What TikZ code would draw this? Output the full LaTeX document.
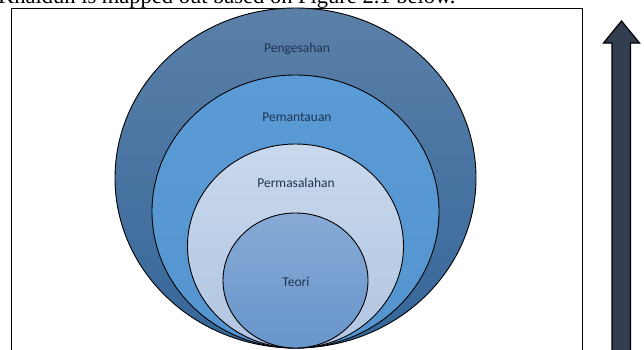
\documentclass[tikz,border=0pt]{standalone}
\usepackage{fontspec}
\setmainfont{Liberation Serif}
\newfontfamily\calib{Carlito}
\usetikzlibrary{shapes.geometric}
\definecolor{outerT}{HTML}{5B80A8}
\definecolor{outerB}{HTML}{35679A}
\definecolor{secT}{HTML}{5A9BD6}
\definecolor{secB}{HTML}{5495D0}
\definecolor{thrT}{HTML}{C8D8EC}
\definecolor{thrB}{HTML}{B2C6E2}
\definecolor{fouT}{HTML}{87AAD5}
\definecolor{fouB}{HTML}{6895CB}
\definecolor{labtxt}{HTML}{1E3450}
\definecolor{arrowfill}{HTML}{333F50}
\tikzset{
  ring/.style={ellipse, draw=black, line width=0.9pt, inner sep=0pt},
  lab/.style={font=\calib\fontsize{13.5}{15}\selectfont, text=labtxt, inner sep=0pt}
}
\begin{document}
\begin{tikzpicture}[x=1pt,y=-1pt]
\clip (0,0) rectangle (644,349);
\fill[white] (0,0) rectangle (644,349);
% caption text cut at top
\node[anchor=base west, inner sep=0pt, font=\fontsize{22.5}{24}\selectfont] (cap) at (-2,3) {Khaldun is mapped out based on Figure 2.1 below.};
% frame
\draw[line width=0.8pt] (11.5,8) rectangle (582,370);
% rings
\node[ring, minimum width=361pt, minimum height=340pt, top color=outerT, bottom color=outerB] (r1) at (295.5,178) {};
\node[ring, minimum width=287pt, minimum height=273pt, top color=secT, bottom color=secB] (r2) at (295.5,211.5) {};
\node[ring, minimum width=216pt, minimum height=204pt, top color=thrT, bottom color=thrB] (r3) at (295.5,246) {};
\node[ring, minimum width=145pt, minimum height=135pt, top color=fouT, bottom color=fouB] (r4) at (295.5,280.5) {};
% labels
\node[lab] (l1) at (297,49) {Pengesahan};
\node[lab] (l2) at (297,117) {Pemantauan};
\node[lab] (l3) at (296,183) {Permasalahan};
\node[lab] (l4) at (296,282) {Teori};
% arrow
\draw[line width=1.2pt, fill=arrowfill, line join=miter]
  (612,370) -- (612,43) -- (603.5,43) -- (621.5,21) -- (639.5,43) -- (630.5,43) -- (630.5,370) -- cycle;
\end{tikzpicture}
\end{document}
